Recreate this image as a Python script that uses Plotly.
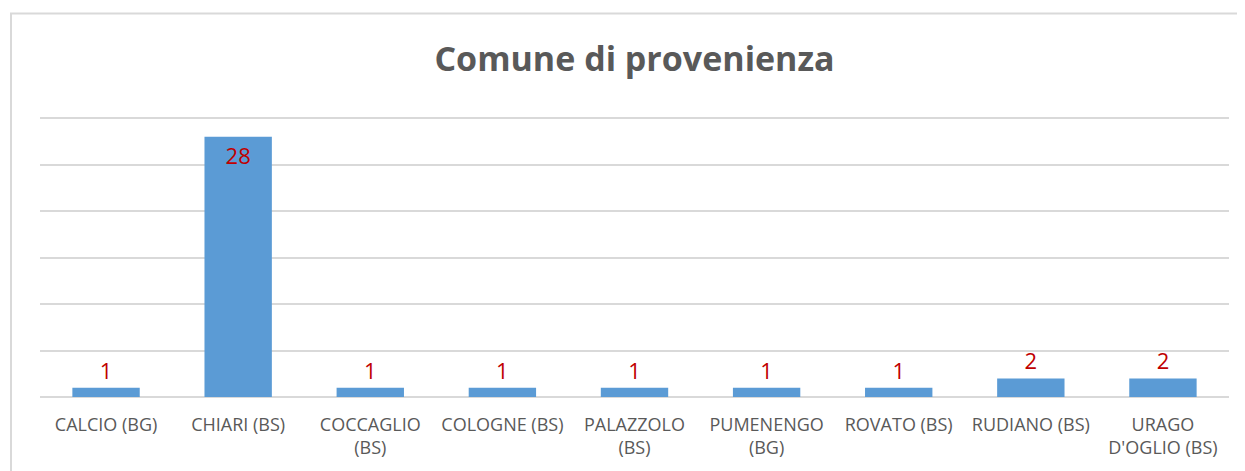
import plotly.graph_objects as go

# =============================================================================
# Data
# =============================================================================
comuni = [
    "CALCIO (BG)",
    "CHIARI (BS)",
    "COCCAGLIO<br>(BS)",
    "COLOGNE (BS)",
    "PALAZZOLO<br>(BS)",
    "PUMENENGO<br>(BG)",
    "ROVATO (BS)",
    "RUDIANO (BS)",
    "URAGO<br>D'OGLIO (BS)",
]
conteggi = [1, 28, 1, 1, 1, 1, 1, 2, 2]

GRAY_TEXT = "#595959"
GRID = "#d9d9d9"

# the page body has an 8px margin, so the figure is 8px smaller each way
W, H = 1237, 463

# tall bars carry the label inside their end, short ones above
posizioni = ["inside" if v > 5 else "outside" for v in conteggi]

fig = go.Figure(
    go.Bar(
        x=comuni,
        y=conteggi,
        text=conteggi,
        textposition=posizioni,
        insidetextanchor="end",
        textfont=dict(color="#c00000", size=22, family="Open Sans"),
        marker=dict(color="#5b9bd5", line=dict(width=0)),
        cliponaxis=False,
    )
)

# outer chart frame (left/top edges visible, others run off the picture)
fig.add_shape(
    type="rect", xref="paper", yref="paper",
    x0=-0.0244, x1=1.05, y0=-0.5, y1=1.332,
    line=dict(color=GRID, width=2), layer="below",
)

fig.update_layout(
    width=W,
    height=H,
    margin=dict(l=32, r=16, t=101, b=74, autoexpand=False),
    paper_bgcolor="white",
    plot_bgcolor="white",
    showlegend=False,
    bargap=0.49,
    font=dict(family="Open Sans", color=GRAY_TEXT),
    title=dict(
        text="<b>Comune di provenienza</b>",
        x=0.5, xanchor="center",
        xref="paper",
        y=1 - 51 / H, yref="container", yanchor="middle",
        font=dict(size=34, color=GRAY_TEXT, family="Open Sans"),
    ),
    xaxis=dict(
        showgrid=False,
        showline=False,
        ticks="",
        tickfont=dict(size=18, color=GRAY_TEXT),
        tickangle=0,
        ticklabelstandoff=15,
        automargin=False,
    ),
    yaxis=dict(
        range=[0, 31],
        dtick=5,
        showgrid=True,
        gridcolor=GRID,
        gridwidth=1.5,
        zeroline=True,
        zerolinecolor=GRID,
        zerolinewidth=2,
        showticklabels=False,
        ticks="",
        automargin=False,
    ),
)

fig.write_html("out.html")
